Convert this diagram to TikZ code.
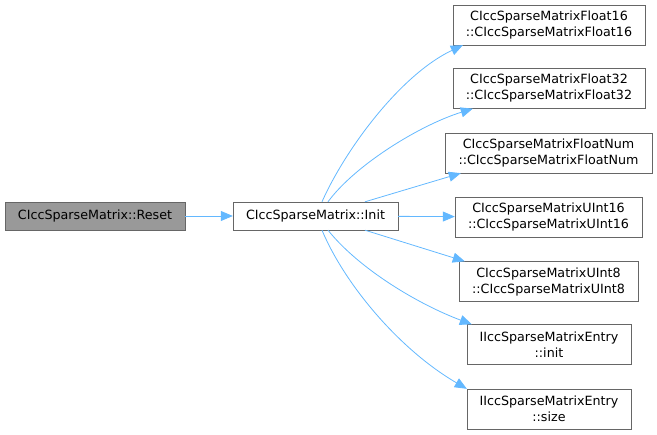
\documentclass[tikz,border=0pt]{standalone}
\usepackage{fontspec}
\setmainfont{DejaVu Sans}
\usetikzlibrary{arrows.meta,positioning}
\definecolor{edgeblue}{HTML}{63B8FF}
\definecolor{boxline}{HTML}{666666}
\definecolor{boxgray}{HTML}{999999}
\tikzset{
  fn style/.style={rectangle, draw=boxline, fill=white, inner sep=0pt,
    align=center, minimum height=28pt, font=\fontsize{12.7}{16}\selectfont},
  fn two/.style={fn style, minimum height=40pt},
  call style/.style={-{Triangle[length=12pt, width=10pt]}, draw=edgeblue, line width=0.8pt}
}
\begin{document}
\begin{tikzpicture}[x=1pt, y=-1pt]
\useasboundingbox (0,0) rectangle (657,435);
% caller and callee
\node[fn style, fill=boxgray, minimum width=180pt] (reset) at (95,216) {CIccSparseMatrix::Reset};
\node[fn style, minimum width=165pt] (init) at (315.5,216) {CIccSparseMatrix::Init};
% called functions
\node[fn two, minimum width=192pt] (f16) at (549,25) {CIccSparseMatrixFloat16\\::CIccSparseMatrixFloat16};
\node[fn two, minimum width=192pt] (f32) at (549,88.5) {CIccSparseMatrixFloat32\\::CIccSparseMatrixFloat32};
\node[fn two, minimum width=207pt] (fnum) at (548.5,153) {CIccSparseMatrixFloatNum\\::CIccSparseMatrixFloatNum};
\node[fn two, minimum width=187pt] (u16) at (548.5,217) {CIccSparseMatrixUInt16\\::CIccSparseMatrixUInt16};
\node[fn two, minimum width=179pt] (u8) at (548.5,281.5) {CIccSparseMatrixUInt8\\::CIccSparseMatrixUInt8};
\node[fn two, minimum width=164pt] (einit) at (549,344.5) {IIccSparseMatrixEntry\\::init};
\node[fn two, minimum width=164pt] (esize) at (549,409) {IIccSparseMatrixEntry\\::size};
% calls
\draw[call style] (reset) -- (init);
\draw[call style] ([xshift=6.5pt]init.north) .. controls (345,150) and (400,75) .. ([xshift=10pt]f16.south west);
\draw[call style] ([xshift=12.5pt]init.north) .. controls (355,165) and (420,125) .. ([xshift=20pt]f32.south west);
\draw[call style] ([xshift=49.5pt]init.north) -- ([xshift=16pt]fnum.south west);
\draw[call style] (init) -- (u16);
\draw[call style] ([xshift=49.5pt]init.south) -- ([xshift=6pt]u8.north west);
\draw[call style] ([xshift=12.5pt]init.south) .. controls (360,270) and (420,305) .. ([xshift=5pt]einit.north west);
\draw[call style] ([xshift=6.5pt]init.south) .. controls (345,285) and (400,350) .. ([xshift=0pt]esize.north west);
\end{tikzpicture}
\end{document}
